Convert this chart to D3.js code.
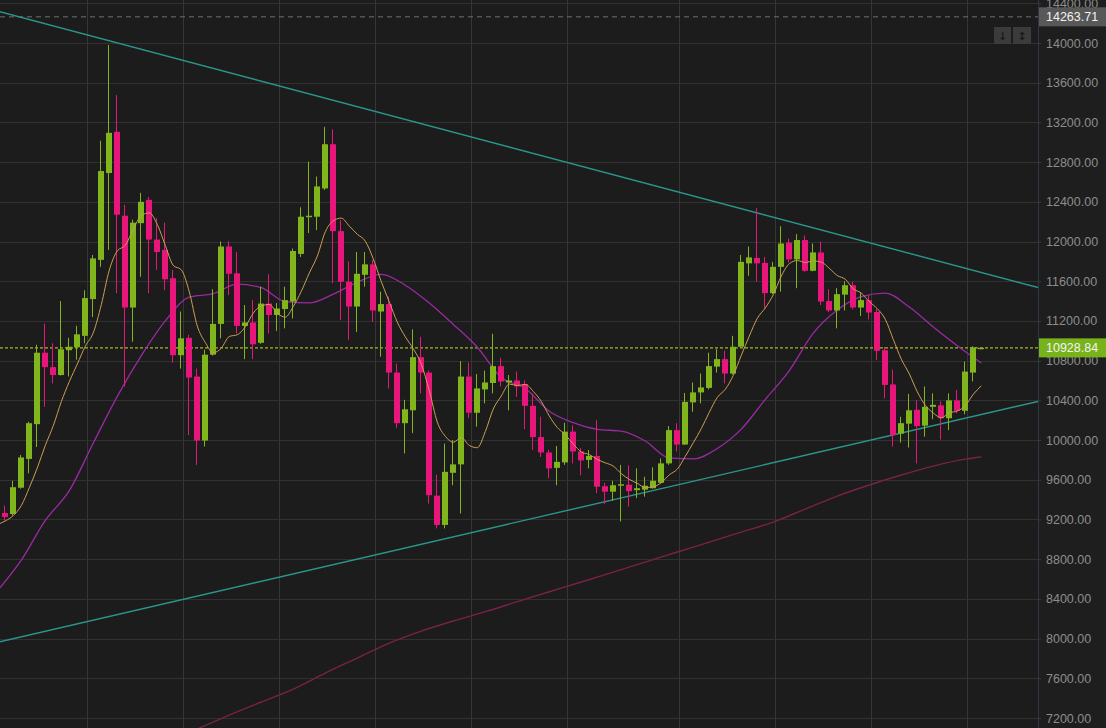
<!DOCTYPE html>
<html><head><meta charset="utf-8">
<script src="https://cdn.jsdelivr.net/npm/d3@7"></script>
<style>body{margin:0;background:#1c1c1c;overflow:hidden}</style>
</head><body><svg id="c" width="1106" height="728"></svg>
<script>
// 12-hour candles, first (partial) candle index -1 = 2019-06-19 12:00 UTC
const firstCandleUTC = Date.UTC(2019, 5, 19, 12);
const candleMs = 12 * 3600 * 1000;

const opens = [9170,9265,9255,9520,9810,10160,10880,10735,10655,10905,10935,11050,11420,11815,12690,13105,12260,11335,12185,12420,12020,11915,11630,10855,11030,10640,9995,10860,11170,11950,11680,11150,11185,10980,11375,11260,11320,11395,11875,12245,12250,12535,12980,12105,11595,11345,11665,11770,11295,11370,10680,10170,10300,10835,10680,9440,9145,9670,9755,10640,10275,10510,10575,10745,10580,10600,10565,10345,10030,9875,9720,9775,10085,9885,9800,9840,9535,9480,9540,9550,9495,9500,9515,9570,9765,10100,9955,10380,10480,10525,10740,10815,10670,10940,11780,11835,11785,11480,11745,11990,11820,12015,11705,11890,11400,11305,11465,11560,11335,11410,11290,10905,10560,10065,10165,10305,10145,10335,10350,10220,10400,10295,10680,10915];
const highs = [9300,9340,9590,9850,10185,10960,11175,10975,11400,11030,11150,11510,11865,13015,13980,13475,12370,12220,12490,12450,12235,12190,11715,11295,11060,10720,10910,11520,12000,12005,11895,11360,11410,11545,11670,11380,11545,11930,12345,12805,12655,13155,13130,12215,11800,11895,11895,11815,11495,11445,10770,10405,11115,11040,10700,9650,9965,10000,10795,10780,10665,10700,11070,10830,10655,10690,10600,10470,10235,9900,9940,10175,10150,9920,9900,10200,9570,9590,9750,9745,9715,9630,9725,9815,10140,10170,10475,10580,10670,10880,10915,10900,11050,11865,11950,12335,11845,11795,12155,12030,12075,12060,11980,12000,11520,11530,11600,11595,11485,11460,11320,10940,10710,10235,10465,10400,10540,10470,10390,10470,10505,10790,10945,10935];
const lows = [9140,9190,9240,9510,9665,9930,10335,10570,10650,10640,10810,10975,11240,11745,11915,11480,10540,10990,11645,11480,11715,11510,10780,10720,10050,9750,9935,10850,11025,11460,11075,10815,10815,10970,11075,11100,11125,11225,11845,12085,12115,12520,11580,11210,11010,11090,11545,11190,10840,10520,10120,9865,10070,10470,9360,9110,9110,9545,9260,10220,10135,10370,10470,10540,10300,10435,10110,9900,9830,9615,9545,9750,9765,9645,9715,9465,9355,9390,9180,9330,9415,9430,9510,9560,9750,9885,9950,10285,10370,10510,10680,10570,10660,10930,11655,11595,11330,11470,11495,11790,11530,11695,11700,11360,11290,11125,11305,11315,11250,11215,10805,10420,9935,9975,9925,9765,10035,10210,10005,10100,10270,10260,10590,10915];
const closes = [9260,9225,9525,9825,10170,10880,10735,10655,10915,10940,11065,11430,11830,12710,13095,12270,11335,12190,12400,12020,11895,11620,10855,11025,10630,9995,10860,11170,11950,11675,11150,11185,10965,11375,11260,11325,11410,11905,12250,12260,12555,12980,12105,11595,11345,11675,11770,11305,11370,10680,10170,10310,10835,10680,9445,9145,9680,9755,10640,10275,10520,10580,10745,10590,10600,10540,10345,10030,9875,9715,9780,10085,9885,9795,9840,9530,9480,9545,9555,9485,9515,9540,9590,9765,10100,9955,10385,10480,10530,10745,10815,10670,10940,11795,11840,11780,11480,11745,11980,11820,12015,11705,11890,11395,11305,11470,11560,11335,11410,11285,10900,10555,10050,10170,10300,10140,10335,10355,10220,10400,10295,10690,10935,10929];

const ma7Head = [9150,9185,9240,9340,9520,9720];

// medium moving average (candle index, price)
const maMidIdx = [-1,2,5,8,11,14,17,20,23,26,29,32,35,38,41,44,47,50,53,56,59,62,65,68,71,74,77,80,83,86,89,92,95,98,101,104,107,110,113,116,119,122];
const maMidVals = [8480,8790,9190,9490,9970,10440,10850,11200,11440,11475,11570,11535,11395,11381,11470,11590,11670,11560,11380,11165,10935,10630,10520,10290,10175,10108,10090,9990,9820,9810,9915,10110,10410,10700,11078,11310,11445,11480,11340,11139,10950,10776];

// long moving average
const maLongIdx = [20,24,28,32,36,40,44,48,52,56,60,64,68,72,76,80,84,88,92,96,100,104,108,112,116,120,122];
const maLongVals = [6938,7089,7230,7361,7492,7653,7804,7955,8076,8177,8271,8372,8472,8570,8670,8771,8872,8972,9073,9174,9305,9436,9547,9648,9738,9808,9829];

// trend lines (candle index, price)
const upperTrendIdx = [-1, 130];
const upperTrendVals = [14322, 11517];
const lowerTrendIdx = [-1, 130];
const lowerTrendVals = [7962, 10406];

const gridDates = ["2019-06-25","2019-07-01","2019-07-07","2019-07-13","2019-07-19","2019-07-25","2019-08-01","2019-08-07","2019-08-13","2019-08-19"];
const yTicks = [7200,7600,8000,8400,8800,9200,9600,10000,10400,10800,11200,11600,12000,12400,12800,13200,13600,14000,14400];
const lastPrice = 10928.84;
const highMark = 14263.71;

// ---------------------------------------------------------------
const W = 1106, H = 728, plotR = 1038;
const svg = d3.select("#c");
svg.append("rect").attr("width", W).attr("height", H).attr("fill", "#1c1c1c");

const dateOf = i => new Date(firstCandleUTC + (i + 1) * candleMs);
const x = d3.scaleTime().domain([dateOf(0), dateOf(129)]).range([5.3, 5.3 + 8 * 129]);
const y = d3.scaleLinear().domain([7200, 14000]).range([718, 43]);

const candles = closes.map((c, k) => ({
  i: k - 1, date: dateOf(k - 1), o: opens[k], h: highs[k], l: lows[k], c: c
}));

// clip
svg.append("clipPath").attr("id", "plot").append("rect")
  .attr("x", 0).attr("y", 0).attr("width", plotR).attr("height", H);

// grid
const grid = svg.append("g");
grid.selectAll("line.h").data(yTicks).join("line")
  .attr("x1", 0).attr("x2", plotR)
  .attr("y1", d => Math.round(y(d)) + 0.5).attr("y2", d => Math.round(y(d)) + 0.5)
  .attr("stroke", "#313131").attr("stroke-width", 1);
grid.selectAll("line.v").data(gridDates.map(s => new Date(s + "T00:00:00Z"))).join("line")
  .attr("x1", d => Math.round(x(d) + 1.5) + 0.5).attr("x2", d => Math.round(x(d) + 1.5) + 0.5)
  .attr("y1", 0).attr("y2", H)
  .attr("stroke", "#363636").attr("stroke-width", 1);

const plot = svg.append("g").attr("clip-path", "url(#plot)");

// reference lines
plot.append("line").attr("x1", 0).attr("x2", plotR)
  .attr("y1", y(highMark)).attr("y2", y(highMark))
  .attr("stroke", "#707070").attr("stroke-width", 1).attr("stroke-dasharray", "5,4");
plot.append("line").attr("x1", 0).attr("x2", plotR)
  .attr("y1", y(lastPrice)).attr("y2", y(lastPrice))
  .attr("stroke", "#a7b521").attr("stroke-width", 1.3).attr("stroke-dasharray", "3,2");

// trend lines
const trendLine = d3.line().x(d => x(dateOf(d[0]))).y(d => y(d[1]));
[[upperTrendIdx, upperTrendVals], [lowerTrendIdx, lowerTrendVals]].forEach(([ix, vs]) => {
  plot.append("path").attr("d", trendLine(ix.map((v, k) => [v, vs[k]])))
    .attr("fill", "none").attr("stroke", "#2b968c").attr("stroke-width", 1.4);
});

// moving averages
const maLine = d3.line().x(d => x(d.date)).y(d => y(d.v)).curve(d3.curveMonotoneX);
const maLong = maLongIdx.map((ix, k) => ({date: dateOf(ix), v: maLongVals[k]}));
const maMid = maMidIdx.map((ix, k) => ({date: dateOf(ix), v: maMidVals[k]}));
const ma7 = candles.map((d, k) => ({
  date: d.date,
  v: k >= 6 ? d3.mean(closes.slice(k - 6, k + 1)) : ma7Head[k]
}));
plot.append("path").attr("d", maLine(maLong)).attr("fill", "none")
  .attr("stroke", "#7a2149").attr("stroke-width", 1.4);
plot.append("path").attr("d", maLine(maMid)).attr("fill", "none")
  .attr("stroke", "#9a2aa3").attr("stroke-width", 1.3);

// candles
const green = "#80b51b", pink = "#e8157a";
const cg = plot.append("g");
candles.forEach(d => {
  const col = d.c >= d.o ? green : pink;
  const left = Math.round(x(d.date) - 3);
  cg.append("line")
    .attr("x1", left + 2.5).attr("x2", left + 2.5)
    .attr("y1", y(d.h)).attr("y2", y(d.l))
    .attr("stroke", col).attr("stroke-width", 1);
  const top = y(Math.max(d.o, d.c)), bot = y(Math.min(d.o, d.c));
  cg.append("rect").attr("x", left).attr("width", 6)
    .attr("y", top).attr("height", Math.max(1.2, bot - top))
    .attr("fill", col);
});

plot.append("path").attr("d", maLine(ma7)).attr("fill", "none")
  .attr("stroke", "#c9a052").attr("stroke-width", 1);

// right axis
svg.append("rect").attr("x", plotR).attr("y", 0).attr("width", W - plotR).attr("height", H).attr("fill", "#1e1e1e");
svg.append("line").attr("x1", plotR + 0.5).attr("x2", plotR + 0.5).attr("y1", 0).attr("y2", H)
  .attr("stroke", "#2c3844").attr("stroke-width", 1);
const axis = d3.axisRight(y).tickValues(yTicks).tickFormat(d3.format(".2f")).tickSize(3).tickPadding(5);
const ag = svg.append("g").attr("transform", `translate(${plotR},0)`).call(axis);
ag.select(".domain").remove();
ag.selectAll(".tick line").attr("stroke", "#3a3a3a");
ag.selectAll(".tick text").attr("fill", "#8d8d8d")
  .style("font-family", "'Liberation Sans', Arial, sans-serif").style("font-size", "12.5px");

// price tags
function tag(v, fill, txt) {
  const cy = y(v);
  svg.append("rect").attr("x", plotR + 1).attr("y", cy - 9.5).attr("width", W - plotR - 1).attr("height", 19).attr("fill", fill);
  svg.append("text").attr("x", plotR + 8).attr("y", cy).attr("dy", "0.36em")
    .attr("fill", txt).style("font-family", "'Liberation Sans', Arial, sans-serif").style("font-size", "12.5px")
    .text(d3.format(".2f")(v));
}
tag(highMark, "#585858", "#f2f2f2");
tag(lastPrice, "#78b31b", "#f4f4f4");

// small toolbar buttons
const btns = [{x: 994, w: 17, g: "↓"}, {x: 1013, w: 18, g: "↕"}];
btns.forEach(b => {
  svg.append("rect").attr("x", b.x).attr("y", 27).attr("width", b.w).attr("height", 17).attr("fill", "#3b3b3b");
  svg.append("text").attr("x", b.x + b.w / 2).attr("y", 36).attr("dy", "0.36em").attr("text-anchor", "middle")
    .attr("fill", "#1a1a1a").style("font-family", "'DejaVu Sans', sans-serif").style("font-size", "11px").style("font-weight", "bold").text(b.g);
});
</script>
</body></html>
